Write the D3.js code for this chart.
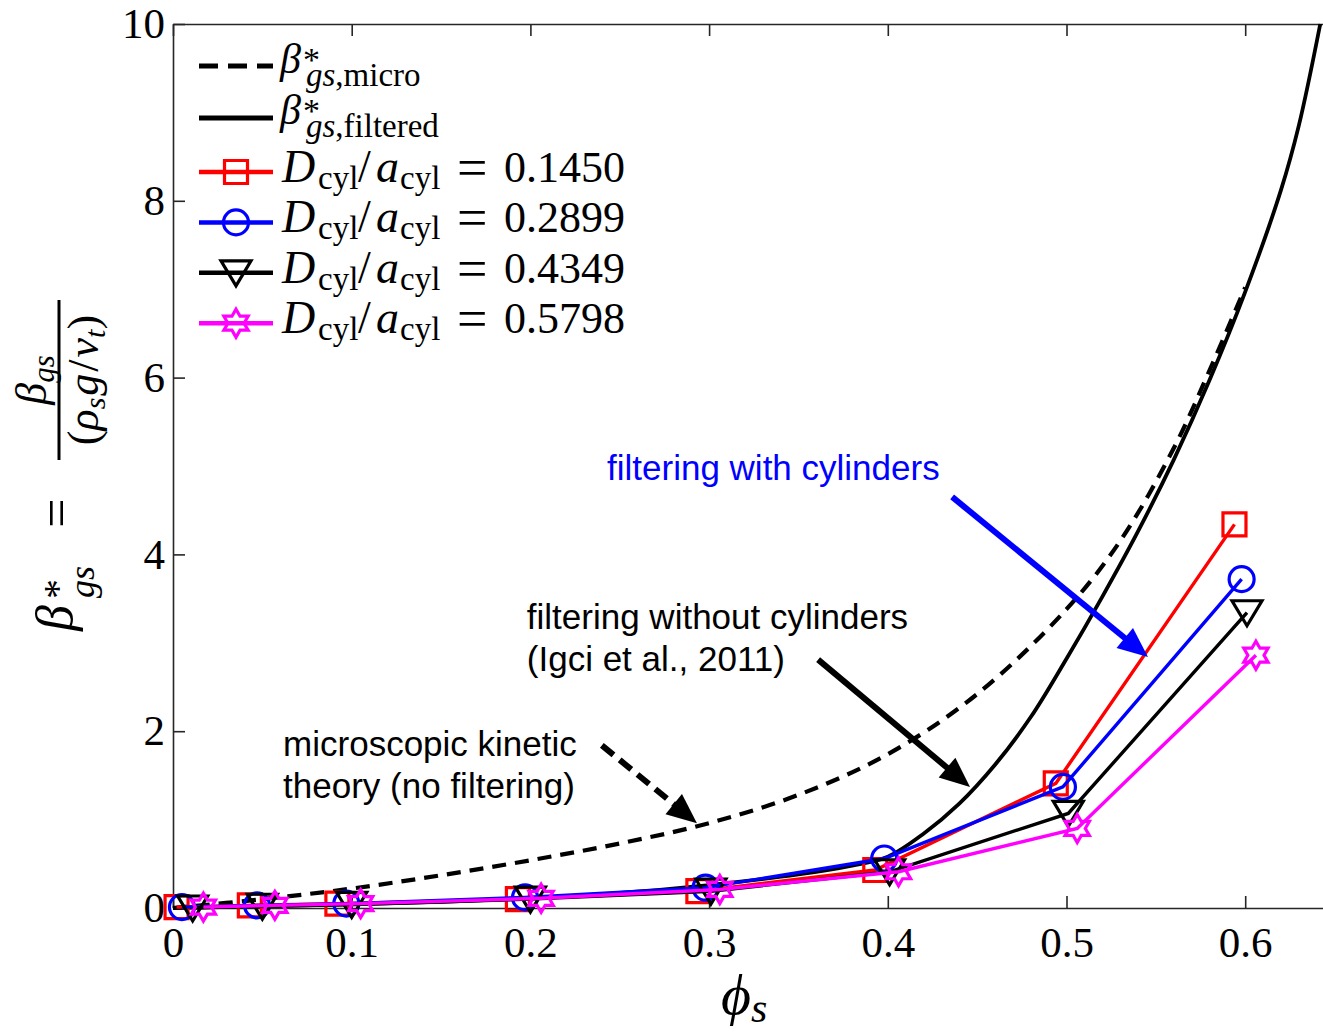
<!DOCTYPE html>
<html>
<head>
<meta charset="utf-8">
<script src="https://cdn.jsdelivr.net/npm/d3@7"></script>
<style>
  body { margin: 0; background: #fff; }
  svg { display: block; }
</style>
</head>
<body>
<svg id="chart" width="1323" height="1036"></svg>
<script>
// ---- data -------------------------------------------------------------
// Dimensionless drag coefficient vs. solid volume fraction.
const phiMicro  = [0, 0.05, 0.10, 0.15, 0.20, 0.25, 0.30, 0.35, 0.40, 0.45, 0.50, 0.53, 0.56, 0.58, 0.60];
const betaMicro = [0, 0.10, 0.22, 0.37, 0.54, 0.73, 0.96, 1.28, 1.74, 2.42, 3.38, 4.15, 5.20, 6.08, 7.02];

const phiFiltered  = [0, 0.05, 0.10, 0.15, 0.20, 0.25, 0.30, 0.35, 0.38, 0.40, 0.42, 0.44, 0.46, 0.48, 0.50, 0.52, 0.54, 0.56, 0.58, 0.60, 0.62, 0.63, 0.642];
const betaFiltered = [0, 0.02, 0.04, 0.07, 0.11, 0.17, 0.26, 0.38, 0.48, 0.58, 0.84, 1.18, 1.62, 2.16, 2.82, 3.52, 4.26, 5.07, 5.97, 6.97, 8.12, 8.85, 10.0];

// filtered drag with cylinders, one series per D_cyl/a_cyl
const cylRatios = ["0.1450", "0.2899", "0.4349", "0.5798"];
const phiCyl1  = [0.002, 0.043, 0.092, 0.193, 0.294, 0.393, 0.494, 0.594];
const betaCyl1 = [0.01, 0.03, 0.05, 0.10, 0.19, 0.43, 1.41, 4.34];
const phiCyl2  = [0.005, 0.047, 0.097, 0.197, 0.298, 0.398, 0.498, 0.598];
const betaCyl2 = [0.01, 0.03, 0.05, 0.12, 0.23, 0.56, 1.37, 3.72];
const phiCyl3  = [0.011, 0.050, 0.100, 0.200, 0.301, 0.401, 0.501, 0.601];
const betaCyl3 = [0.00, 0.02, 0.04, 0.10, 0.19, 0.41, 1.07, 3.34];
const phiCyl4  = [0.017, 0.057, 0.105, 0.206, 0.306, 0.406, 0.506, 0.606];
const betaCyl4 = [0.01, 0.03, 0.05, 0.11, 0.21, 0.41, 0.90, 2.86];

const xTicks = [0, 0.1, 0.2, 0.3, 0.4, 0.5, 0.6];
const yTicks = [0, 2, 4, 6, 8, 10];

// ---- setup ------------------------------------------------------------
const svg = d3.select("#chart");
const SERIF = "'Liberation Serif', 'Times New Roman', serif";
const SANS = "'Liberation Sans', Arial, sans-serif";
const AXIS = "#262626";

const x = d3.scaleLinear().domain([0, 0.65]).range([173, 173 + 0.65 * 1787]);
const y = d3.scaleLinear().domain([0, 10]).range([908, 24]);

// ---- axes (ticks point inward) ------------------------------------------
function styleAxis(g) {
  g.select(".domain").attr("stroke", AXIS).attr("stroke-width", 1.6);
  g.selectAll(".tick line").attr("stroke", AXIS).attr("stroke-width", 1.6);
  g.selectAll(".tick text").attr("font-family", SERIF).attr("font-size", 43).attr("fill", "#000");
}
const fmtX = d => d === 0 ? "0" : d3.format(".1f")(d);

svg.append("g").attr("transform", "translate(0,908)")
  .call(d3.axisBottom(x).tickValues(xTicks).tickSizeInner(-12).tickSizeOuter(0).tickPadding(18).tickFormat(fmtX))
  .call(styleAxis);
svg.append("g").attr("transform", "translate(0,24)")
  .call(d3.axisTop(x).tickValues(xTicks).tickSizeInner(-12).tickSizeOuter(0).tickFormat(""))
  .call(styleAxis);
svg.append("g").attr("transform", "translate(173,0)")
  .call(d3.axisLeft(y).tickValues(yTicks).tickSizeInner(-12).tickSizeOuter(0).tickPadding(8).tickFormat(d3.format("d")))
  .call(styleAxis);

// ---- continuous curves ------------------------------------------------
const curveLine = d3.line().x(d => x(d[0])).y(d => y(d[1])).curve(d3.curveCatmullRom.alpha(0.5));

svg.append("path")
  .datum(d3.zip(phiMicro, betaMicro))
  .attr("d", curveLine)
  .attr("fill", "none").attr("stroke", "#000").attr("stroke-width", 4.2)
  .attr("stroke-dasharray", "14,9");

svg.append("path")
  .datum(d3.zip(phiFiltered, betaFiltered))
  .attr("d", curveLine)
  .attr("fill", "none").attr("stroke", "#000").attr("stroke-width", 3.8);

// ---- marker shapes ----------------------------------------------------
function markerPath(kind) {
  const p = d3.path();
  if (kind === "square") {
    const h = 11.5;
    p.rect(-h, -h, 2 * h, 2 * h);
  } else if (kind === "circle") {
    p.arc(0, 0, 12.5, 0, 2 * Math.PI);
  } else if (kind === "triangle") {
    p.moveTo(-15, -12); p.lineTo(15, -12); p.lineTo(0, 13); p.closePath();
  } else if (kind === "hexagram") {
    const R = 14, r = R / Math.sqrt(3);
    for (let i = 0; i < 12; i++) {
      const a = -Math.PI / 2 + i * Math.PI / 6;
      const rad = i % 2 === 0 ? R : r;
      const px = rad * Math.cos(a), py = rad * Math.sin(a);
      if (i === 0) p.moveTo(px, py); else p.lineTo(px, py);
    }
    p.closePath();
  }
  return p.toString();
}

const series = [
  { phi: phiCyl1, beta: betaCyl1, color: "#ff0000", marker: "square",   label: cylRatios[0] },
  { phi: phiCyl2, beta: betaCyl2, color: "#0000ff", marker: "circle",   label: cylRatios[1] },
  { phi: phiCyl3, beta: betaCyl3, color: "#000000", marker: "triangle", label: cylRatios[2] },
  { phi: phiCyl4, beta: betaCyl4, color: "#ff00ff", marker: "hexagram", label: cylRatios[3] }
];

const straight = d3.line().x(d => x(d[0])).y(d => y(d[1]));
series.forEach(s => {
  const pts = d3.zip(s.phi, s.beta);
  const g = svg.append("g");
  g.append("path").datum(pts).attr("d", straight)
    .attr("fill", "none").attr("stroke", s.color).attr("stroke-width", 3.4);
  g.selectAll("path.m").data(pts).join("path").attr("class", "m")
    .attr("transform", d => `translate(${x(d[0])},${y(d[1])})`)
    .attr("d", markerPath(s.marker))
    .attr("fill", "none").attr("stroke", s.color).attr("stroke-width", 3.2);
});

// ---- legend -----------------------------------------------------------
const leg = svg.append("g");
const lx0 = 199, lx1 = 273, lxm = 236;

function betaLabel(g, base, sub) {
  const t = g.append("text").attr("font-family", SERIF).attr("fill", "#000");
  t.append("tspan").attr("x", 280).attr("y", base).attr("font-size", 42).attr("font-style", "italic").text("β");
  t.append("tspan").attr("x", 303).attr("y", base - 2).attr("font-size", 34).text("*");
  t.append("tspan").attr("x", 306).attr("y", base + 13).attr("font-size", 33).attr("font-style", "italic").text("gs");
  t.append("tspan").attr("font-size", 33).text("," + sub);
}

leg.append("line").attr("x1", lx0).attr("x2", lx1).attr("y1", 66).attr("y2", 66)
  .attr("stroke", "#000").attr("stroke-width", 5).attr("stroke-dasharray", "19,10");
betaLabel(leg, 73, "micro");
leg.append("line").attr("x1", lx0).attr("x2", lx1).attr("y1", 118).attr("y2", 118)
  .attr("stroke", "#000").attr("stroke-width", 5);
betaLabel(leg, 124, "filtered");

series.forEach((s, i) => {
  const cy = 172 + i * 50.4;
  const base = cy + 10;
  leg.append("line").attr("x1", lx0).attr("x2", lx1).attr("y1", cy).attr("y2", cy)
    .attr("stroke", s.color).attr("stroke-width", 4.5);
  leg.append("path").attr("transform", `translate(${lxm},${cy})`).attr("d", markerPath(s.marker))
    .attr("fill", "none").attr("stroke", s.color).attr("stroke-width", 3.2);
  const t = leg.append("text").attr("y", base).attr("font-family", SERIF).attr("font-size", 46).attr("fill", "#000");
  t.append("tspan").attr("x", 282).attr("font-style", "italic").text("D");
  t.append("tspan").attr("x", 318).attr("font-size", 33).attr("dy", 7).text("cyl");
  t.append("tspan").attr("x", 358).attr("dy", -7).text("/");
  t.append("tspan").attr("x", 376).attr("font-style", "italic").text("a");
  t.append("tspan").attr("x", 400).attr("font-size", 33).attr("dy", 7).text("cyl");
  leg.append("text").attr("x", 457).attr("y", base + 4).attr("font-family", SERIF).attr("font-size", 54).text("=");
  leg.append("text").attr("x", 504).attr("y", base).attr("font-family", SERIF).attr("font-size", 44).text(s.label);
});

// ---- axis titles ------------------------------------------------------
const xl = svg.append("text").attr("x", 721).attr("y", 1014).attr("font-family", SERIF).attr("fill", "#000");
xl.append("tspan").attr("font-size", 58).attr("font-style", "italic").text("ϕ");
xl.append("tspan").attr("font-size", 42).attr("font-style", "italic").attr("dy", 8).text("s");

const yl = svg.append("g").attr("transform", "translate(60,465) rotate(-90)")
  .attr("font-family", SERIF).attr("fill", "#000");
const yb = yl.append("text");
yb.append("tspan").attr("x", -166).attr("y", 12).attr("font-size", 52).attr("font-style", "italic").text("β");
yb.append("tspan").attr("x", -134).attr("y", 11).attr("font-size", 40).text("*");
yb.append("tspan").attr("x", -133).attr("y", 34).attr("font-size", 36).attr("font-style", "italic").text("gs");
yl.append("text").attr("x", -48).attr("y", 14).attr("text-anchor", "middle").attr("font-size", 52).text("=");
yl.append("line").attr("x1", 5).attr("x2", 165).attr("y1", -1).attr("y2", -1).attr("stroke", "#000").attr("stroke-width", 3);
const num = yl.append("text").attr("x", 85).attr("y", -14).attr("text-anchor", "middle").attr("font-size", 44);
num.append("tspan").attr("font-style", "italic").text("β");
num.append("tspan").attr("font-size", 31).attr("font-style", "italic").attr("dy", 8).text("gs");
const den = yl.append("text").attr("x", 85).attr("y", 38).attr("text-anchor", "middle").attr("font-size", 44);
den.append("tspan").text("(");
den.append("tspan").attr("font-style", "italic").text("ρ");
den.append("tspan").attr("font-size", 30).attr("font-style", "italic").attr("dy", 7).text("s");
den.append("tspan").attr("font-style", "italic").attr("dy", -7).attr("dx", 2).text("g");
den.append("tspan").attr("dx", 2).text("/");
den.append("tspan").attr("font-style", "italic").attr("dx", 2).text("v");
den.append("tspan").attr("font-size", 30).attr("font-style", "italic").attr("dy", 7).text("t");
den.append("tspan").attr("dy", -7).text(")");

// ---- annotations ------------------------------------------------------
const notes = [
  { lines: ["filtering with cylinders"], phi: 0.2429, beta: 4.84, color: "#0000ff" },
  { lines: ["filtering without cylinders", "(Igci et al., 2011)"], phi: 0.198, beta: 3.16, color: "#000" },
  { lines: ["microscopic kinetic", "theory (no filtering)"], phi: 0.0616, beta: 1.72, color: "#000" }
];
notes.forEach(n => {
  n.lines.forEach((ln, i) => {
    svg.append("text").attr("x", x(n.phi)).attr("y", y(n.beta) + i * 42.5)
      .attr("font-family", SANS).attr("font-size", 35).attr("fill", n.color).text(ln);
  });
});

const arrows = [
  { from: [0.436, 4.65], to: [0.5456, 2.84], color: "#0000ff", dash: null },
  { from: [0.361, 2.81], to: [0.446, 1.37], color: "#000", dash: null },
  { from: [0.240, 1.84], to: [0.2932, 0.96], color: "#000", dash: "15,8" }
];
arrows.forEach(a => {
  const x0 = x(a.from[0]), y0 = y(a.from[1]), x1 = x(a.to[0]), y1 = y(a.to[1]);
  const ang = Math.atan2(y1 - y0, x1 - x0);
  const headL = 30, headW = 13;
  const bx = x1 - headL * Math.cos(ang), by = y1 - headL * Math.sin(ang);
  svg.append("line").attr("x1", x0).attr("y1", y0).attr("x2", bx + 4 * Math.cos(ang)).attr("y2", by + 4 * Math.sin(ang))
    .attr("stroke", a.color).attr("stroke-width", 6).attr("stroke-dasharray", a.dash);
  const nx = -Math.sin(ang), ny = Math.cos(ang);
  svg.append("path")
    .attr("d", `M${x1},${y1}L${bx + headW * nx},${by + headW * ny}L${bx - headW * nx},${by - headW * ny}Z`)
    .attr("fill", a.color);
});
</script>
</body>
</html>
